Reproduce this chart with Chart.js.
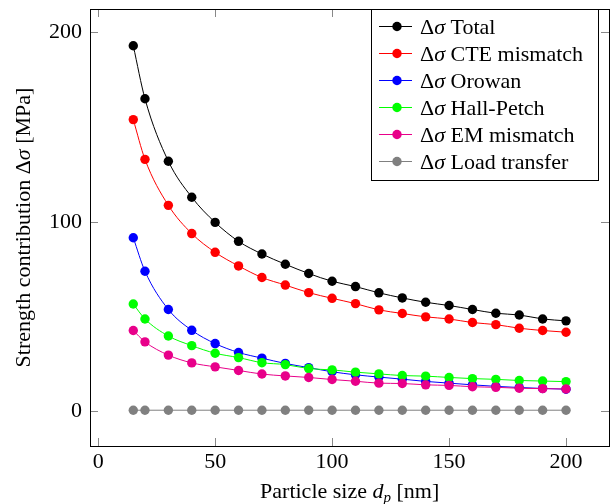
<!DOCTYPE html>
<html><head><meta charset="utf-8">
<script src="https://cdn.jsdelivr.net/npm/chart.js@4/dist/chart.umd.min.js"></script>
<style>html,body{margin:0;padding:0;background:#fff;}canvas{display:block;}</style>
</head><body>
<canvas id="c" width="614" height="504"></canvas>
<script>
// ---- data ----
const particleSize = [15,20,30,40,50,60,70,80,90,100,110,120,130,140,150,160,170,180,190,200];
const totalValues  = [193,165,132,113,99.7,89.7,83,77.6,72.7,68.6,65.8,62.5,59.8,57.5,55.8,53.7,51.7,50.8,48.7,47.7];
const cteValues    = [154,133,108.7,93.8,83.9,76.7,70.6,66.6,62.6,59.6,56.8,53.5,51.6,49.8,48.7,46.8,45.7,43.8,42.6,41.7];
const orowanValues = [91.6,73.9,53.7,42.7,35.7,31,28,25.2,23,20.8,19.2,18,16.9,15.7,14.8,13.9,13.1,12.5,12,11.6];
const hallPetchValues = [56.6,48.7,39.7,34.6,30.6,28.3,25.6,24.6,22.5,21.8,20.6,19.7,18.8,18.5,17.8,17.2,16.8,16.2,15.9,15.6];
const emValues     = [42.6,36.6,29.6,25.5,23.4,21.5,19.6,18.6,17.8,16.7,15.8,14.8,14.6,13.9,13.6,12.9,12.6,12.1,11.9,11.7];
const loadValues   = [0.5,0.5,0.5,0.5,0.5,0.5,0.5,0.5,0.5,0.5,0.5,0.5,0.5,0.5,0.5,0.5,0.5,0.5,0.5,0.5];
const seriesNames  = ["Total","CTE mismatch","Orowan","Hall-Petch","EM mismatch","Load transfer"];
const xTicks = [0,50,100,150,200];
const yTicks = [0,100,200];

// ---- styles ----
const seriesColors = ["#000000","#ff0000","#0000ff","#00ff00","#e8008a","#808080"];
const FONT = '"Liberation Serif","Times New Roman",serif';
const FS = 22;

const allSeries = [totalValues,cteValues,orowanValues,hallPetchValues,emValues,loadValues];
const datasets = allSeries.map((vals,i)=>({
  label: "Δσ " + seriesNames[i],
  data: particleSize.map((x,j)=>({x:x, y:vals[j]})),
  borderColor: seriesColors[i],
  backgroundColor: seriesColors[i],
  borderWidth: 1,
  pointRadius: 4.7,
  pointBorderWidth: 0,
  pointBackgroundColor: seriesColors[i],
  cubicInterpolationMode: 'monotone',
  order: allSeries.length - i
}));

function richWidth(ctx, segs){
  let w = 0;
  for (const s of segs){ ctx.font = s.font; w += ctx.measureText(s.t).width; }
  return w;
}
function drawRich(ctx, segs, x, y, align){
  const w = richWidth(ctx, segs);
  let cx = align === 'center' ? x - w/2 : x;
  for (const s of segs){
    ctx.font = s.font;
    ctx.fillText(s.t, cx, y + (s.dy||0));
    cx += ctx.measureText(s.t).width;
  }
}
const nf = (sz)=> `${sz}px ${FONT}`;
const itf = (sz)=> `italic ${sz}px ${FONT}`;
function sigmaSegs(label){
  const rest = label.slice(2);
  return [{t:"Δ",font:nf(FS)},{t:"σ",font:itf(FS)},{t:rest,font:nf(FS)}];
}
function noPad(s){ s.paddingTop = 0; s.paddingBottom = 0; s.paddingLeft = 0; s.paddingRight = 0; }

const decor = {
  id:'decor',
  afterDraw(chart){
    const ctx = chart.ctx, a = chart.chartArea;
    const xs = chart.scales.x, ys = chart.scales.y;
    const L = Math.round(a.left), R = Math.round(a.right), T = Math.round(a.top), B = Math.round(a.bottom);
    ctx.save();
    ctx.strokeStyle = '#888'; ctx.lineWidth = 1;
    const TL = 8;
    ctx.beginPath();
    for (const v of xTicks){
      const p = Math.round(xs.getPixelForValue(v)) + 0.5;
      ctx.moveTo(p, B); ctx.lineTo(p, B - TL);
      ctx.moveTo(p, T); ctx.lineTo(p, T + TL);
    }
    for (const v of yTicks){
      const p = Math.round(ys.getPixelForValue(v)) + 0.5;
      ctx.moveTo(L, p); ctx.lineTo(L + TL, p);
      ctx.moveTo(R, p); ctx.lineTo(R - TL, p);
    }
    ctx.stroke();
    ctx.strokeStyle = '#000';
    ctx.strokeRect(L+0.5, T+0.5, R-L, B-T);
    // legend
    const lw = 227, lx = R - 238, ly = T;
    const rowH = 27, lh = rowH*chart.data.datasets.length + 9;
    ctx.fillStyle = '#fff';
    ctx.fillRect(lx, ly, lw, lh);
    ctx.strokeStyle = '#000';
    ctx.strokeRect(lx+0.5, ly+0.5, lw, lh);
    chart.data.datasets.forEach((ds,i)=>{
      const cy = ly + 17 + i*rowH;
      ctx.strokeStyle = ds.borderColor; ctx.lineWidth = 1;
      ctx.beginPath(); ctx.moveTo(lx+8, cy+0.5); ctx.lineTo(lx+41, cy+0.5); ctx.stroke();
      ctx.fillStyle = ds.borderColor;
      ctx.beginPath(); ctx.arc(lx+26, cy+0.5, 4.7, 0, Math.PI*2); ctx.fill();
      ctx.fillStyle = '#000';
      ctx.textBaseline = 'alphabetic'; ctx.textAlign = 'left';
      drawRich(ctx, sigmaSegs(ds.label), lx+49, cy+7.5, 'left');
    });
    // axis titles
    ctx.fillStyle = '#000';
    ctx.textBaseline = 'alphabetic'; ctx.textAlign = 'left';
    drawRich(ctx, [
      {t:"Particle size ",font:nf(FS)},
      {t:"d",font:itf(FS)},
      {t:"p",font:itf(15),dy:3.5},
      {t:" [nm]",font:nf(FS)}
    ], (a.left+a.right)/2, 498, 'center');
    ctx.translate(30, (a.top+a.bottom)/2);
    ctx.rotate(-Math.PI/2);
    drawRich(ctx, [
      {t:"Strength contribution ",font:nf(FS)},
      {t:"Δ",font:nf(FS)},
      {t:"σ",font:itf(FS)},
      {t:" [MPa]",font:nf(FS)}
    ], 0, 0, 'center');
    ctx.restore();
  }
};

new Chart(document.getElementById('c'), {
  type:'line',
  data:{datasets},
  options:{
    responsive:false,
    animation:false,
    layout:{padding:{top:9,right:2,left:0,bottom:0}},
    plugins:{legend:{display:false},tooltip:{enabled:false}},
    scales:{
      x:{
        type:'linear', min:-3.5, max:218.5,
        afterBuildTicks(s){ s.ticks = xTicks.map(v=>({value:v})); },
        afterFit(s){ s.height = 58; noPad(s); },
        grid:{display:false, drawTicks:false},
        border:{display:false},
        ticks:{color:'#000', font:{family:FONT,size:FS}, padding:3, maxRotation:0, autoSkip:false}
      },
      y:{
        type:'linear', min:-18.4, max:212.4,
        afterBuildTicks(s){ s.ticks = yTicks.map(v=>({value:v})); },
        afterFit(s){ s.width = 90; noPad(s); },
        grid:{display:false, drawTicks:false},
        border:{display:false},
        ticks:{color:'#000', font:{family:FONT,size:FS}, padding:8}
      }
    }
  },
  plugins:[decor]
});
</script>
</body></html>
